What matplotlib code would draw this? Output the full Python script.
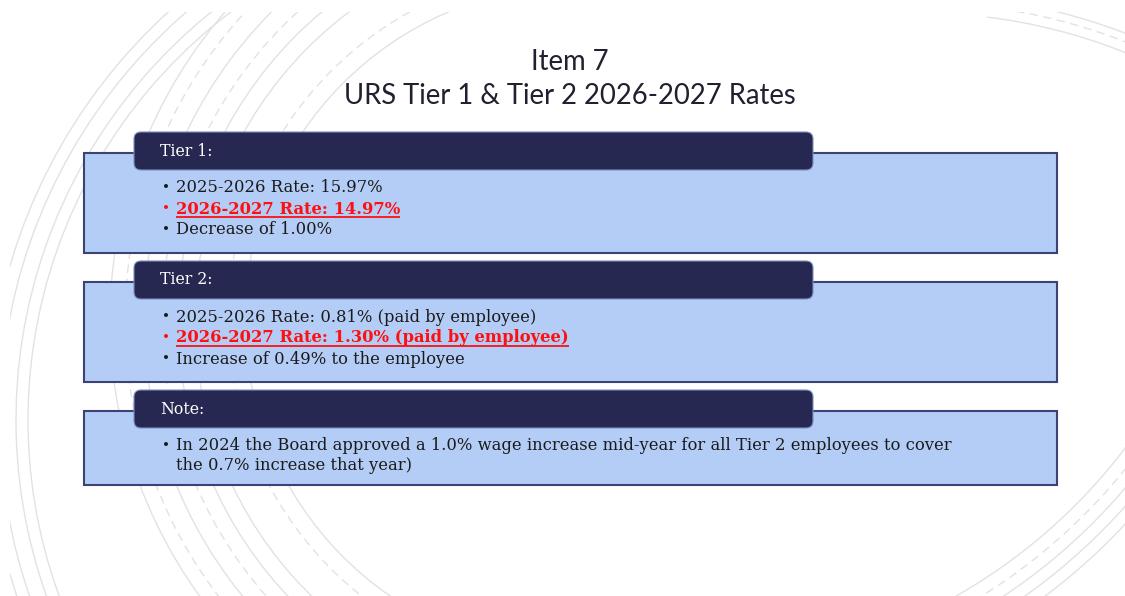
import numpy as np
import matplotlib
matplotlib.use("Agg")
import matplotlib.pyplot as plt
from matplotlib.patches import Rectangle, FancyBboxPatch, Arc

# slide content
title_lines = ["Item 7", "URS Tier 1 & Tier 2 2026-2027 Rates"]
section_titles = ["Tier 1:", "Tier 2:", "Note:"]
tier1_items = ["2025-2026 Rate: 15.97%", "2026-2027 Rate: 14.97%", "Decrease of 1.00%"]
tier2_items = ["2025-2026 Rate: 0.81% (paid by employee)",
               "2026-2027 Rate: 1.30% (paid by employee)",
               "Increase of 0.49% to the employee"]
note_items = ["In 2024 the Board approved a 1.0% wage increase mid-year for all Tier 2 employees to cover\n"
              "the 0.7% increase that year)"]
highlighted = [[1], [1], []]

W, H = 1125, 596
fig = plt.figure(figsize=(W / 100, H / 100), dpi=100)
ax = fig.add_axes([0, 0, 1, 1])
ax.set_xlim(0, W)
ax.set_ylim(H, 0)
ax.axis("off")

# faint background arcs (slide decoration), clipped to the slide area
clip = Rectangle((10, 12), W - 10, H - 12, transform=ax.transData)
arc_color = "#e2e2e2"
arc_groups = [
    # center, radii, theta range, dashed radii indices
    ((540, 420), [512, 524, 540, 552], (95, 262), []),
    ((580, 320), [335, 352, 385, 402, 418, 436, 455, 470], (95, 268), [1, 4, 6]),
    ((920, 565), [552, 562, 570], (-83, -55), [1]),
    ((680, 110), [559, 572, 584, 596, 608], (22, 70), [1]),
]
for (cx, cy), radii, (t1, t2), dashed in arc_groups:
    for i, r in enumerate(radii):
        a = Arc((cx, cy), 2 * r, 2 * r, theta1=t1, theta2=t2,
                color=arc_color, lw=1.0,
                ls=(0, (6, 4)) if i in dashed else "-", zorder=0)
        ax.add_patch(a)
        a.set_clip_path(clip)

# title
title_font = ["Lato", "DejaVu Sans"]
for line, y in zip(title_lines, [62, 96]):
    ax.text(W / 2 + 7, y, line, ha="center", va="center", fontsize=19.8,
            family=title_font, color="#202030")

box_fill = "#b4cdf6"
box_edge = "#3b4374"
header_fill = "#262852"
body_font = ["DejaVu Serif"]
body_size = 11.8

box_tops = [153, 282, 411]
box_heights = [100, 100, 74]
sections = [tier1_items, tier2_items, note_items]

underlines = []
for k, items in enumerate(sections):
    top = box_tops[k]
    ax.add_patch(Rectangle((84, top), 973, box_heights[k], facecolor=box_fill,
                           edgecolor=box_edge, lw=1.5, zorder=2))
    htop = top - 21
    ax.add_patch(FancyBboxPatch((134, htop), 679, 38,
                                boxstyle="round,pad=0,rounding_size=7",
                                facecolor=header_fill, edgecolor="#7d8fc0",
                                lw=0.8, zorder=3))
    ax.text(160, htop + 19, section_titles[k], ha="left", va="center",
            fontsize=body_size - 0.5, family=body_font, color="white", zorder=4)

    y = top + 35
    for j, item in enumerate(items):
        red = j in highlighted[k]
        color = "#ff1010" if red else "#1a1a1a"
        ax.text(162, y, "\u2022", ha="left", va="center", fontsize=body_size - 2,
                family=body_font, color=color, zorder=4)
        parts = item.split("\n")
        for sub in parts:
            t = ax.text(176, y, sub, ha="left", va="center", fontsize=body_size,
                        family=body_font, color=color,
                        fontweight="bold" if red else "normal", zorder=4)
            if red:
                underlines.append((t, color))
            y += 19 if len(parts) > 1 else 21

# underline highlighted lines
fig.canvas.draw()
renderer = fig.canvas.get_renderer()
inv = ax.transData.inverted()
for t, color in underlines:
    bb = t.get_window_extent(renderer)
    (x0, y0), (x1, y1) = inv.transform([(bb.x0, bb.y0), (bb.x1, bb.y1)])
    ax.plot([x0, x1], [y0 - 1, y0 - 1], color=color, lw=1.3, zorder=4,
            solid_capstyle="butt")

fig.savefig("out.png", dpi=100, facecolor="white")
